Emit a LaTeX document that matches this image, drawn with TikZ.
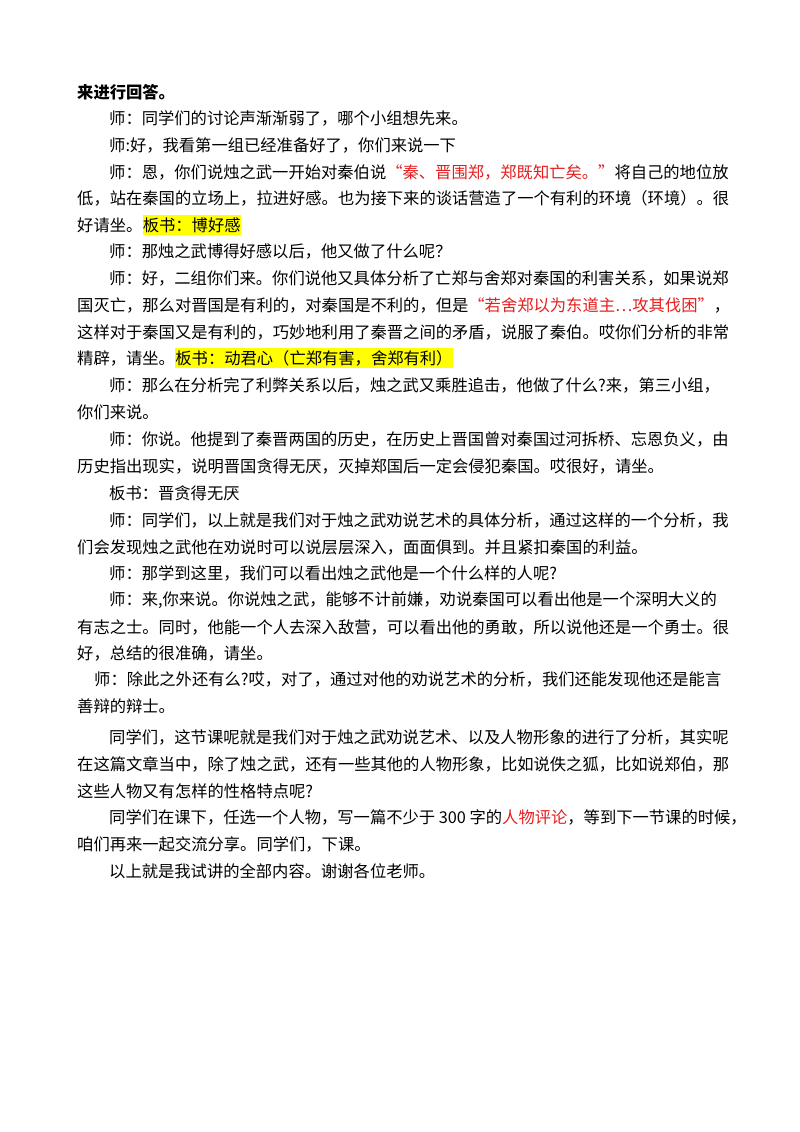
\documentclass[tikz,border=0pt]{standalone}
\usepackage{fontspec}
\setmainfont{Noto Sans CJK SC}
\definecolor{hl}{RGB}{255,255,0}
\definecolor{rd}{RGB}{230,30,30}
\tikzset{ln/.style={anchor=west,inner sep=0pt,font=\fontsize{16.3}{17}\selectfont},
 hlt/.style={ln,fill=hl,inner ysep=2pt}}
\begin{document}
\begin{tikzpicture}[x=1pt,y=-1pt]
\useasboundingbox (0,0) rectangle (800,1132);
\fill[white] (0,0) rectangle (800,1132);
\def\L{77}\def\I{109}
\node[ln,font=\fontsize{16.3}{17}\selectfont\bfseries] (l1) at (\L,92) {来进行回答。};
\node[ln] (l2) at (\I,118) {师：同学们的讨论声渐渐弱了，哪个小组想先来。};
\node[ln] (l3) at (\I,145) {师:好，我看第一组已经准备好了，你们来说一下};
\node[ln] (l4) at (\I,172) {师：恩，你们说烛之武一开始对秦伯说\textcolor{rd}{“秦、晋围郑，郑既知亡矣。”}将自己的地位放};
\node[ln] (l5) at (\L,198) {低，站在秦国的立场上，拉进好感。也为接下来的谈话营造了一个有利的环境（环境）。很};
\node[ln] (l6) at (\L,225) {好请坐。};
\node[hlt,anchor=west] (l6b) at (l6.east) {板书：博好感};
\node[ln] (l7) at (\I,251) {师：那烛之武博得好感以后，他又做了什么呢？};
\node[ln] (l8) at (\I,278) {师：好，二组你们来。你们说他又具体分析了亡郑与舍郑对秦国的利害关系，如果说郑};
\node[ln] (l9) at (\L,305) {国灭亡，那么对晋国是有利的，对秦国是不利的，但是\textcolor{rd}{“若舍郑以为东道主…攻其伐困”}，};
\node[ln] (l10) at (\L,332) {这样对于秦国又是有利的，巧妙地利用了秦晋之间的矛盾，说服了秦伯。哎你们分析的非常};
\node[ln] (l11) at (\L,358) {精辟，请坐。};
\node[hlt,anchor=west] (l11b) at (l11.east) {板书：动君心（亡郑有害，舍郑有利）};
\node[ln] (l12) at (\I,385) {师：那么在分析完了利弊关系以后，烛之武又乘胜追击，他做了什么?来，第三小组，};
\node[ln] (l13) at (\L,412) {你们来说。};
\node[ln] (l14) at (\I,439) {师：你说。他提到了秦晋两国的历史，在历史上晋国曾对秦国过河拆桥、忘恩负义，由};
\node[ln] (l15) at (\L,466) {历史指出现实，说明晋国贪得无厌，灭掉郑国后一定会侵犯秦国。哎很好，请坐。};
\node[ln] (l16) at (\I,493) {板书：晋贪得无厌};
\node[ln] (l17) at (\I,520) {师：同学们，以上就是我们对于烛之武劝说艺术的具体分析，通过这样的一个分析，我};
\node[ln] (l18) at (\L,547) {们会发现烛之武他在劝说时可以说层层深入，面面俱到。并且紧扣秦国的利益。};
\node[ln] (l19) at (\I,573) {师：那学到这里，我们可以看出烛之武他是一个什么样的人呢?};
\node[ln] (l20) at (\I,600) {师：来,你来说。你说烛之武，能够不计前嫌，劝说秦国可以看出他是一个深明大义的};
\node[ln] (l21) at (\L,627) {有志之士。同时，他能一个人去深入敌营，可以看出他的勇敢，所以说他还是一个勇士。很};
\node[ln] (l22) at (\L,653) {好，总结的很准确，请坐。};
\node[ln] (l23) at (94,679) {师：除此之外还有么?哎，对了，通过对他的劝说艺术的分析，我们还能发现他还是能言};
\node[ln] (l24) at (\L,706) {善辩的辩士。};
\node[ln] (l25) at (\I,737) {同学们，这节课呢就是我们对于烛之武劝说艺术、以及人物形象的进行了分析，其实呢};
\node[ln] (l26) at (\L,764) {在这篇文章当中，除了烛之武，还有一些其他的人物形象，比如说佚之狐，比如说郑伯，那};
\node[ln] (l27) at (\L,791) {这些人物又有怎样的性格特点呢?};
\node[ln] (l28) at (\I,817) {同学们在课下，任选一个人物，写一篇不少于 300 字的\textcolor{rd}{人物评论}，等到下一节课的时候，};
\node[ln] (l29) at (\L,844) {咱们再来一起交流分享。同学们，下课。};
\node[ln] (l30) at (\I,871) {以上就是我试讲的全部内容。谢谢各位老师。};
\end{tikzpicture}
\end{document}
